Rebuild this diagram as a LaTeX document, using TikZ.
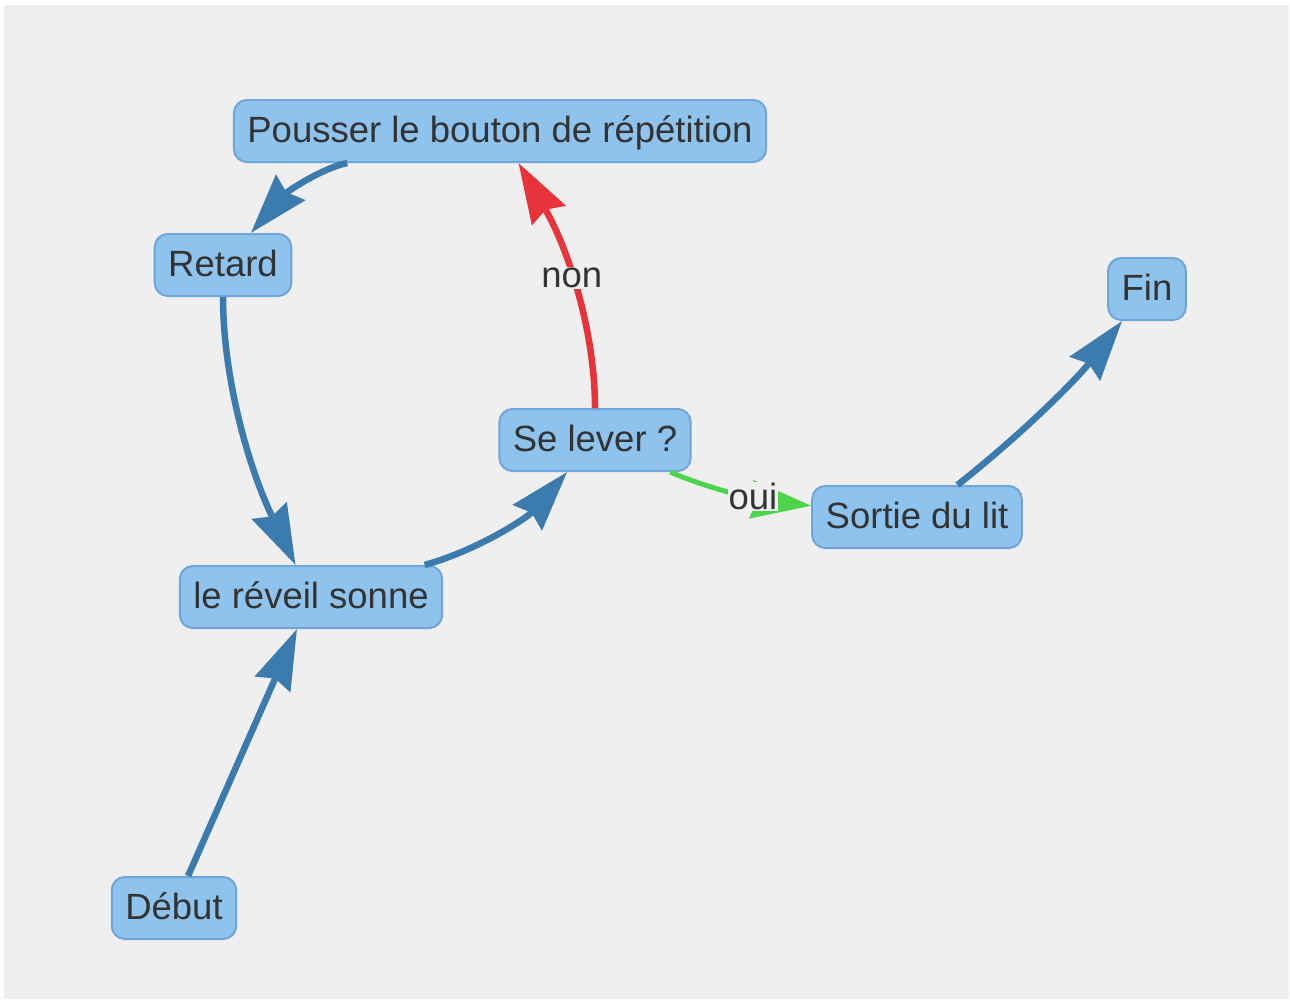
\documentclass[tikz,border=0pt]{standalone}
\usepackage{fontspec}
\setmainfont{Liberation Sans}
\usetikzlibrary{arrows.meta}

\definecolor{bggrey}{HTML}{EFEFEF}
\definecolor{nodefill}{HTML}{8DC3EC}
\definecolor{nodeborder}{HTML}{6FA5D8}
\definecolor{textc}{HTML}{333333}
\definecolor{edgeblue}{HTML}{3C7BAE}
\definecolor{nored}{HTML}{E8333A}
\definecolor{okgreen}{HTML}{4CD44C}

\begin{document}
\begin{tikzpicture}[x=1pt,y=-1pt,
  state/.style={draw=nodeborder, line width=2pt, fill=nodefill,
    rounded corners=13pt, inner xsep=13.5pt, inner ysep=0pt,
    minimum height=62pt, text=textc,
    font=\fontsize{36.5}{40}\selectfont, text height=29pt, text depth=7pt},
  flow/.style={line width=6.5pt, draw=edgeblue,
    -{Stealth[length=60pt,width=38pt,inset=6pt]}},
  edgelabel/.style={fill=bggrey, inner sep=1pt, text=textc,
    font=\fontsize{36.5}{40}\selectfont}]

% canvas
\useasboundingbox (0,0) rectangle (1290,1001);
\fill[white] (0,0) rectangle (1290,1001);
\fill[bggrey] (4,5) rectangle (1289,999);

% states
\node[state] (repeat) at (500,131) {Pousser le bouton de répétition};
\node[state] (late)   at (223,265) {Retard};
\node[state] (finish) at (1147,289) {Fin};
\node[state] (decide) at (595,440) {Se lever ?};
\node[state] (getup)  at (917,517) {Sortie du lit};
\node[state] (alarm)  at (311,597) {le réveil sonne};
\node[state] (begin)  at (174,908) {Début};

% transitions
\draw[flow] (begin) -- (alarm);
\draw[flow] (alarm) .. controls (478,550) and (527,518) .. (decide);
\draw[flow, draw=nored] (decide) .. controls (595,333) and (569.3,250.7) .. (repeat)
  node[edgelabel, pos=0.55] {non};
\draw[flow] (repeat) .. controls (320,168.7) and (286,192.7) .. (late);
\draw[flow] (late) .. controls (223,375) and (247.3,465.3) .. (alarm);
\draw[flow, draw=okgreen, line width=5pt] (decide) .. controls (710,489) and (758,500) .. (getup)
  node[edgelabel, pos=0.62] {oui};
\draw[flow] (getup) .. controls (1022,434) and (1076,380) .. (finish);

\end{tikzpicture}
\end{document}
